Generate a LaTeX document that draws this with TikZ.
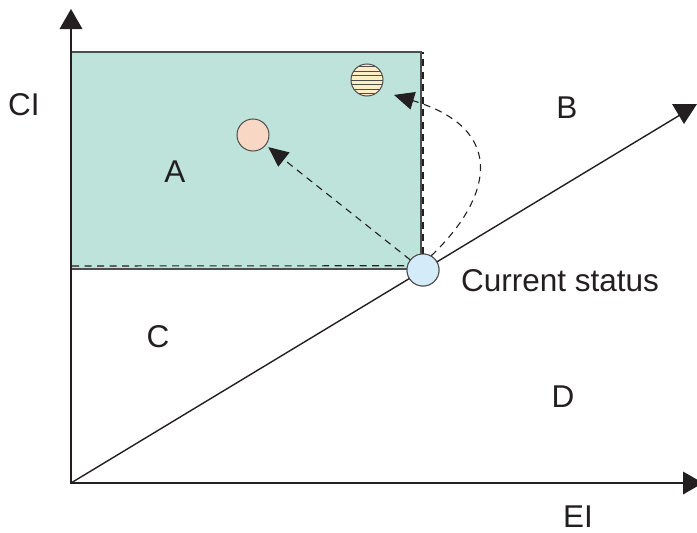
\documentclass[tikz,border=0pt]{standalone}
\usepackage{fontspec}
\setmainfont{Liberation Sans}
\usetikzlibrary{arrows.meta}
\definecolor{regionA}{RGB}{189,227,219}
\definecolor{pinkc}{RGB}{248,216,196}
\definecolor{bluec}{RGB}{212,236,250}
\definecolor{yellowc}{RGB}{253,238,196}
\definecolor{ink}{RGB}{35,31,32}
\begin{document}
\begin{tikzpicture}[x=1pt,y=-1pt,
  axis/.style={line width=1.4pt,draw=ink},
  regionbox/.style={line width=1.4pt,draw=ink!80},
  lbl/.style={font=\fontsize{31.5}{36}\selectfont,text=ink,inner sep=0pt},
  dot/.style={circle,draw=ink!80,line width=1pt,minimum size=32pt,inner sep=0pt},
  dashline/.style={dash pattern=on 7pt off 5.5pt,line width=1.1pt,draw=ink},
  dasharrow/.style={dashline,-{Triangle[length=20pt,width=18pt]}},
  headfill/.style={fill=ink}
  ]
\useasboundingbox (0,0) rectangle (697,533);
% region A
\fill[regionA] (71,52) rectangle (421,269);
\coordinate (O) at (71,483);
\coordinate (ytop) at (71,29);
\coordinate (xend) at (683,483);
\coordinate (dend) at (680,115);
\coordinate (top) at (0,52);
\coordinate (rectTL) at (71,52);
\coordinate (rectTR) at (421,52);
\coordinate (rectBR) at (421,269);
\coordinate (rectBL) at (71,269);
% status circles
\node[dot,fill=bluec] (cur) at (423,270) {};
% dashed boundaries
\draw[dashline] (72,266) -- (cur.165);
\draw[dashline] (cur.north) -- (cur.north |- top);
% region border
\draw[regionbox] (rectTL) -- (rectTR) -- (rectBR) -- (rectBL);
% axes
\draw[axis] (ytop) -- (O) -- (xend);
\draw[axis] (O) -- (dend);
\fill[headfill] (59.5,29) -- (71,9) -- (82.5,29) -- cycle;
\fill[headfill] (683,471.5) -- (703,483) -- (683,494.5) -- cycle;
\fill[headfill] (672,104) -- (697,104) -- (684,124) -- cycle;
% circles on top
\node[dot,fill=bluec] (cur) at (423,270) {};
\node[dot,fill=pinkc] (pink) at (253,135) {};
\node[dot,fill=yellowc,
  path picture={\foreach \k in {-3,...,3}
    \draw[ink!80,line width=0.9pt]
      ([yshift=\k*4.5pt]path picture bounding box.west) --
      ([yshift=\k*4.5pt]path picture bounding box.east);}] (stripe) at (367,80) {};
% moves
\draw[dasharrow,shorten >=3pt] (cur) -- (pink);
\draw[dasharrow,shorten >=15pt] (cur.60) .. controls (490,200) and (510,130) .. (stripe.-40);
% labels
\node[lbl] (CI) at (24,105) {CI};
\node[lbl] (A) at (175,172) {A};
\node[lbl] (B) at (567,108) {B};
\node[lbl] (C) at (158,337) {C};
\node[lbl] (D) at (563,397) {D};
\node[lbl] (EI) at (578,517) {EI};
\node[lbl] (cs) at (560,281) {Current status};
\end{tikzpicture}
\end{document}
